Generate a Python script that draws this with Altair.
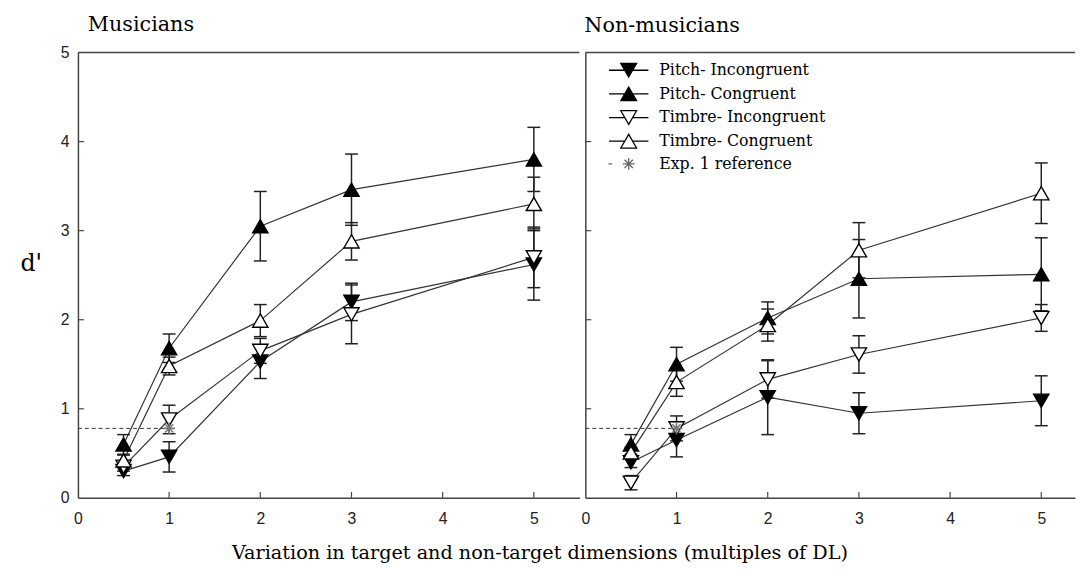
import altair as alt
import pandas as pd

# ---------------- data ----------------
x_levels = [0.5, 1, 2, 3, 5]
cond_names = ["Pitch- Incongruent", "Pitch- Congruent", "Timbre- Incongruent", "Timbre- Congruent"]
ref_name = "Exp. 1 reference"

# Musicians
mus_pitch_incong = [0.30, 0.46, 1.53, 2.20, 2.62]
mus_pitch_incong_err = [0.05, 0.17, 0.19, 0.21, 0.40]
mus_pitch_cong = [0.60, 1.68, 3.05, 3.46, 3.80]
mus_pitch_cong_err = [0.11, 0.16, 0.39, 0.40, 0.36]
mus_timbre_incong = [0.35, 0.88, 1.65, 2.06, 2.70]
mus_timbre_incong_err = [0.05, 0.16, 0.14, 0.33, 0.34]
mus_timbre_cong = [0.42, 1.48, 1.99, 2.88, 3.30]
mus_timbre_cong_err = [0.06, 0.10, 0.18, 0.21, 0.30]

# Non-musicians
non_pitch_incong = [0.40, 0.65, 1.13, 0.95, 1.09]
non_pitch_incong_err = [0.06, 0.19, 0.42, 0.23, 0.28]
non_pitch_cong = [0.60, 1.50, 2.02, 2.46, 2.51]
non_pitch_cong_err = [0.11, 0.19, 0.18, 0.44, 0.41]
non_timbre_incong = [0.17, 0.78, 1.33, 1.61, 2.02]
non_timbre_incong_err = [0.08, 0.14, 0.21, 0.21, 0.15]
non_timbre_cong = [0.51, 1.30, 1.94, 2.78, 3.42]
non_timbre_cong_err = [0.06, 0.16, 0.18, 0.31, 0.34]

ref_value = 0.78
ref_x_range = [0, 1]
ref_marker_x = [1]
x_tick_values = [0, 1, 2, 3, 4, 5]
y_tick_values = [0, 1, 2, 3, 4, 5]
inner_x_ticks = [1, 2, 3, 4, 5]
inner_y_ticks = [1, 2, 3, 4]

panel_titles = ["Musicians", "Non-musicians"]
x_title = "Variation in target and non-target dimensions (multiples of DL)"
y_title = "d'"

# ---------------- styling ----------------
SERIF = "DejaVu Serif"
SANS = "Liberation Sans"
AXIS_COLOR = "#444444"
H = 452
W_LEFT, W_RIGHT = 509, 497
XMAX_LEFT, XMAX_RIGHT = 5.5, 5.37

marker_style = {
    cond_names[0]: dict(shape="triangle-down", fill="black"),
    cond_names[1]: dict(shape="triangle-up", fill="black"),
    cond_names[2]: dict(shape="triangle-down", fill="white"),
    cond_names[3]: dict(shape="triangle-up", fill="white"),
}
star_path = "M-1,0H1M0,-1V1M-0.7,-0.7L0.7,0.7M-0.7,0.7L0.7,-0.7"

legend_paths = [
    "M-2.5,0H-0.5M0.5,0H2.5M0,0.866L-1,-0.866L1,-0.866Z",
    "M-2.5,0H-0.5M0.5,0H2.5M0,-0.866L-1,0.866L1,0.866Z",
    "M-2.5,0H-0.5M0.5,0H2.5M0,0.866L-1,-0.866L1,-0.866Z",
    "M-2.5,0H-0.5M0.5,0H2.5M0,-0.866L-1,0.866L1,0.866Z",
    "M-2.55,0H-2.1M-0.75,0H0.75M0,-0.75V0.75M-0.53,-0.53L0.53,0.53M-0.53,0.53L0.53,-0.53",
]
legend_fills = ["black", "black", "white", "white", "#777777"]
legend_strokes = ["black", "black", "black", "black", "#666666"]


def build(series):
    rows, caps = [], []
    for name, vals, errs in series:
        for x, v, e in zip(x_levels, vals, errs):
            rows.append(dict(cond=name, x=x, y=v, lo=v - e, hi=v + e))
            caps.append(dict(cond=name, x=x, y=v - e))
            caps.append(dict(cond=name, x=x, y=v + e))
    return pd.DataFrame(rows), pd.DataFrame(caps)


mus_df, mus_caps = build([
    (cond_names[0], mus_pitch_incong, mus_pitch_incong_err),
    (cond_names[1], mus_pitch_cong, mus_pitch_cong_err),
    (cond_names[2], mus_timbre_incong, mus_timbre_incong_err),
    (cond_names[3], mus_timbre_cong, mus_timbre_cong_err),
])
non_df, non_caps = build([
    (cond_names[0], non_pitch_incong, non_pitch_incong_err),
    (cond_names[1], non_pitch_cong, non_pitch_cong_err),
    (cond_names[2], non_timbre_incong, non_timbre_incong_err),
    (cond_names[3], non_timbre_cong, non_timbre_cong_err),
])

ref_line_df = pd.DataFrame({"x": ref_x_range, "y": [ref_value] * len(ref_x_range)})
ref_pt_df = pd.DataFrame({"x": ref_marker_x, "y": [ref_value] * len(ref_marker_x)})
xtick_df = pd.DataFrame({"x": inner_x_ticks})
ytick_df = pd.DataFrame({"y": inner_y_ticks})
legend_df = pd.DataFrame({"cond": cond_names + [ref_name], "x": [1] * 5, "y": [1] * 5})


def panel(df, caps, title, xmax, width, left, legend):
    xs = alt.Scale(domain=[0, xmax], nice=False, zero=False)
    ys = alt.Scale(domain=[0, 5], nice=False, zero=False)
    xax = alt.Axis(values=x_tick_values, title=None, tickSize=0, ticks=False, labelPadding=13,
                   labelFont=SANS, labelFontSize=16, labelColor="#222222", labelFlush=False,
                   domainColor=AXIS_COLOR, domainWidth=1.5, grid=False, format="d")
    if left:
        yax = alt.Axis(values=y_tick_values, title=y_title, titleAngle=0, titleFont=SERIF,
                       titleFontSize=24, titleFontWeight="normal", titleColor="black",
                       titlePadding=30, tickSize=0, ticks=False, labelPadding=9, labelFont=SANS,
                       labelFontSize=16, labelColor="#222222", labelFlush=False,
                       domainColor=AXIS_COLOR, domainWidth=1.5, grid=False, format="d")
    else:
        yax = alt.Axis(values=y_tick_values, title=None, labels=False, ticks=False, tickSize=0,
                       domainColor=AXIS_COLOR, domainWidth=1.5, grid=False)
    X = alt.X("x:Q", scale=xs, axis=xax)
    Y = alt.Y("y:Q", scale=ys, axis=yax)

    layers = []
    # top border
    layers.append(alt.Chart(pd.DataFrame({"x": [0]})).mark_rule(color=AXIS_COLOR, strokeWidth=1.5)
                  .encode(x=alt.value(0), x2=alt.value(width), y=alt.value(0)))
    # inward ticks
    layers.append(alt.Chart(xtick_df).mark_rule(color=AXIS_COLOR, strokeWidth=1.2)
                  .encode(x=X, y=alt.value(H), y2=alt.value(H - 6)))
    layers.append(alt.Chart(ytick_df).mark_rule(color=AXIS_COLOR, strokeWidth=1.2)
                  .encode(y=Y, x=alt.value(0), x2=alt.value(6)))
    # reference dashed line
    layers.append(alt.Chart(ref_line_df).mark_line(color="#333333", strokeWidth=1, strokeDash=[4, 3])
                  .encode(x=X, y=Y))
    # series lines
    layers.append(alt.Chart(df).mark_line(color="#333333", strokeWidth=1.2)
                  .encode(x=X, y=Y, detail="cond:N"))
    # error bars
    layers.append(alt.Chart(df).mark_rule(color="#222222", strokeWidth=1.5)
                  .encode(x=X, y=alt.Y("lo:Q", scale=ys, axis=yax), y2="hi:Q"))
    layers.append(alt.Chart(caps).mark_tick(color="#222222", orient="horizontal", size=13,
                                            thickness=1.5, opacity=1)
                  .encode(x=X, y=Y))
    # markers
    for name in cond_names:
        st = marker_style[name]
        layers.append(alt.Chart(df).transform_filter(alt.datum.cond == name)
                      .mark_point(shape=st["shape"], size=240, filled=True, fill=st["fill"],
                                  stroke="black", strokeWidth=1.4, opacity=1, fillOpacity=1)
                      .encode(x=X, y=Y))
    # reference marker
    layers.append(alt.Chart(ref_pt_df).mark_point(shape=star_path, size=140, stroke="#777777",
                                                  strokeWidth=1.6, opacity=1, filled=False)
                  .encode(x=X, y=Y))
    if legend:
        leg = alt.Legend(title=None, orient="none", legendX=35, legendY=9, labelFont=SERIF,
                         labelFontSize=16, labelColor="black", symbolSize=256,
                         symbolStrokeWidth=1.3, labelOffset=22, rowPadding=4, padding=0,
                         symbolOpacity=1, labelLimit=400)
        names = cond_names + [ref_name]
        layers.append(alt.Chart(legend_df).transform_filter("false")
                      .mark_point(filled=True, opacity=1, strokeWidth=1.3)
                      .encode(x=X, y=Y,
                              shape=alt.Shape("cond:N", scale=alt.Scale(domain=names, range=legend_paths), legend=leg),
                              fill=alt.Fill("cond:N", scale=alt.Scale(domain=names, range=legend_fills), legend=leg),
                              stroke=alt.Stroke("cond:N", scale=alt.Scale(domain=names, range=legend_strokes), legend=leg)))
    return alt.layer(*layers).properties(
        width=width, height=H,
        title=alt.TitleParams(title, anchor="start", dx=10 if left else -1, font=SERIF, fontSize=21,
                              fontWeight="normal", color="black", offset=10 if left else 16,
                              frame="group"))


left = panel(mus_df, mus_caps, panel_titles[0], XMAX_LEFT, W_LEFT, True, False)
right = panel(non_df, non_caps, panel_titles[1], XMAX_RIGHT, W_RIGHT, False, True)

chart = alt.hconcat(left, right, spacing=0).properties(
    title=alt.TitleParams(x_title, orient="bottom", anchor="middle", font=SERIF, fontSize=19.5,
                          fontWeight="normal", color="black", offset=18, dx=-8),
    padding={"left": 12, "top": 2, "right": 0, "bottom": 0},
).resolve_legend(shape="independent", fill="independent", stroke="independent"
).configure_view(stroke=None).configure_axis(grid=False)

chart.save("out.html", embed_options={"renderer": "svg", "actions": False})
